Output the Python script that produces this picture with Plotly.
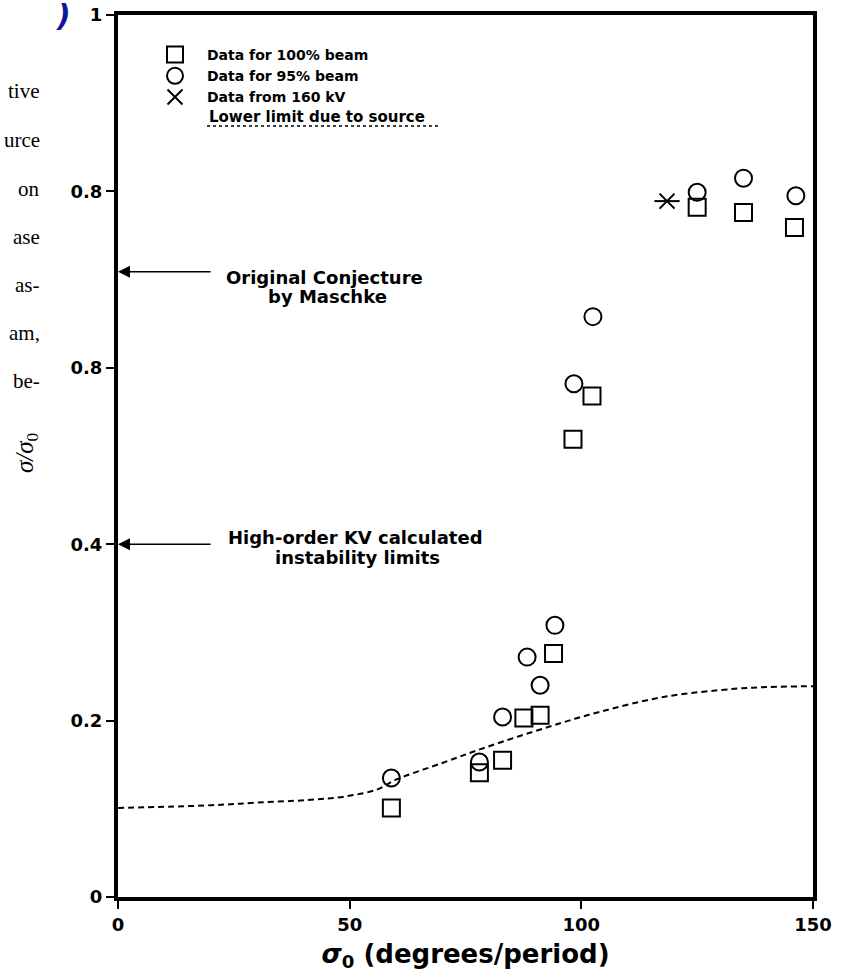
import plotly.graph_objects as go

# 100% beam (squares)
x_full = [59, 78, 83, 87.6, 91.1, 94, 98.2, 102.3, 125, 135, 146]
y_full = [0.101, 0.141, 0.155, 0.203, 0.206, 0.276, 0.519, 0.568, 0.782, 0.776, 0.759]

# 95% beam (circles)
x_95 = [59, 78, 83, 88.3, 91.1, 94.3, 98.4, 102.5, 125, 135, 146.3]
y_95 = [0.135, 0.153, 0.204, 0.272, 0.240, 0.308, 0.582, 0.658, 0.799, 0.815, 0.795]

# 160 kV
x_kv = [118.5]
y_kv = [0.789]

# lower limit due to source (dashed)
x_lim = [0, 20, 30, 41, 49, 56, 60, 70, 79, 93, 104, 118, 133, 140, 150]
y_lim = [0.101, 0.104, 0.107, 0.110, 0.114, 0.122, 0.133, 0.152, 0.169, 0.193,
         0.210, 0.227, 0.236, 0.238, 0.239]

x_ticks = [0, 50, 100, 150]
y_ticks = [0, 0.2, 0.4, 0.6, 0.8, 1]
y_tick_text = ["0", "0.2", "0.4", "0.8", "0.8", "1"]  # as printed in the scan

# cut-off text from the neighbouring column
side_words = ["tive", "urce", "on", "ase", "as-", "am,", "be-"]
side_rows = [91, 140, 189, 237, 285, 333, 381]

SANS = "DejaVu Sans"
SERIF = "Liberation Serif"

# plot area in pixels (for placing the hand-drawn labels)
L, R, T, B = 118, 813, 15, 897


def px(x):
    return (x - L) / (R - L)


def py(y):
    return 1 - (y - T) / (B - T)


fig = go.Figure()

fig.add_trace(go.Scatter(
    x=x_lim, y=y_lim, mode="lines",
    line=dict(color="black", width=2, dash="6px,4px", shape="spline"),
    showlegend=False, hoverinfo="skip"
))
fig.add_trace(go.Scatter(
    x=x_full, y=y_full, mode="markers", name="Data for 100% beam",
    marker=dict(symbol="square-open", size=17, color="black", line=dict(width=2))
))
fig.add_trace(go.Scatter(
    x=x_95, y=y_95, mode="markers", name="Data for 95% beam",
    marker=dict(symbol="circle-open", size=17, color="black", line=dict(width=2))
))
fig.add_trace(go.Scatter(
    x=x_kv, y=y_kv, mode="markers", name="Data from 160 kV", legendgroup="kv",
    marker=dict(symbol="x-thin-open", size=15, color="black", line=dict(width=2))
))
fig.add_trace(go.Scatter(
    x=x_kv, y=y_kv, mode="markers", showlegend=False, legendgroup="kv",
    marker=dict(symbol="line-ew-open", size=18, color="black", line=dict(width=2))
))

label_font = dict(family=SANS, size=18, color="black", weight="bold")
annotations = [
    # arrows pointing at the y axis
    dict(x=0, y=0.709, xref="x", yref="y", ax=20.3, ay=0.709, axref="x", ayref="y",
         showarrow=True, arrowhead=2, arrowsize=1.6, arrowwidth=1.5, arrowcolor="black", text=""),
    dict(x=0, y=0.4, xref="x", yref="y", ax=20.3, ay=0.4, axref="x", ayref="y",
         showarrow=True, arrowhead=2, arrowsize=1.6, arrowwidth=1.5, arrowcolor="black", text=""),
    dict(x=px(324), y=py(265), xref="paper", yref="paper", xanchor="center", showarrow=False,
         text="Original Conjecture", font=label_font),
    dict(x=px(327), y=py(284), xref="paper", yref="paper", xanchor="center", showarrow=False,
         text="by Maschke", font=label_font),
    dict(x=px(355), y=py(537), xref="paper", yref="paper", xanchor="center", showarrow=False,
         text="High-order KV calculated", font=label_font),
    dict(x=px(357), y=py(557), xref="paper", yref="paper", xanchor="center", showarrow=False,
         text="instability limits", font=label_font),
    dict(x=px(207), y=py(117), xref="paper", yref="paper",
         xanchor="left", yanchor="middle", showarrow=False,
         text="Lower limit due to source",
         font=dict(family=SANS, size=15, color="black", weight="bold")),
    dict(x=px(27), y=py(452), xref="paper", yref="paper",
         xanchor="center", yanchor="middle", showarrow=False, textangle=-90,
         text="<i>σ/σ</i><sub>0</sub>",
         font=dict(family=SERIF, size=25, color="black")),
    dict(x=px(63), y=1, xref="paper", yref="paper",
         xanchor="center", yanchor="bottom", yshift=-20, showarrow=False,
         text="<b><i>)</i></b>", font=dict(family=SANS, size=30, color="#14149a")),
]
for word, row in zip(side_words, side_rows):
    annotations.append(dict(
        x=px(42), y=py(row), xref="paper", yref="paper",
        xanchor="right", yanchor="middle", showarrow=False, text=word,
        font=dict(family=SERIF, size=21, color="black")))

fig.update_layout(
    width=843, height=979,
    margin=dict(l=L, r=843 - R, t=T, b=979 - B),
    paper_bgcolor="white", plot_bgcolor="white",
    font=dict(family=SANS, color="black"),
    showlegend=True,
    legend=dict(x=px(143), y=py(39), xanchor="left", yanchor="top",
                bgcolor="rgba(0,0,0,0)", itemwidth=54, tracegroupgap=0,
                font=dict(family=SANS, size=14, color="black", weight="bold")),
    annotations=annotations,
    shapes=[dict(type="line", xref="paper", yref="paper",
                 x0=px(207), x1=px(440), y0=py(126), y1=py(126),
                 line=dict(color="black", width=1.5, dash="dot"))],
)

fig.update_xaxes(
    range=[0, 150], tickvals=x_ticks, ticks="outside", ticklen=8, tickwidth=1.5, tickcolor="black",
    showline=True, linewidth=4, linecolor="black", mirror=True, showgrid=False, zeroline=False,
    automargin=False,
    tickfont=dict(family=SANS, size=18, color="black", weight="bold"),
    title=dict(text="<i>σ</i><sub>0</sub> (degrees/period)", standoff=12,
               font=dict(family=SANS, size=26, color="black", weight="bold"))
)
fig.update_yaxes(
    range=[0, 1], tickvals=y_ticks, ticktext=y_tick_text, ticks="outside", ticklen=8, tickwidth=1.5,
    tickcolor="black", showline=True, linewidth=4, linecolor="black", mirror=True,
    showgrid=False, zeroline=False, automargin=False,
    tickfont=dict(family=SANS, size=18, color="black", weight="bold")
)

fig.write_html("out.html", config={"displayModeBar": False},
               post_script="document.body.style.margin='0';")
